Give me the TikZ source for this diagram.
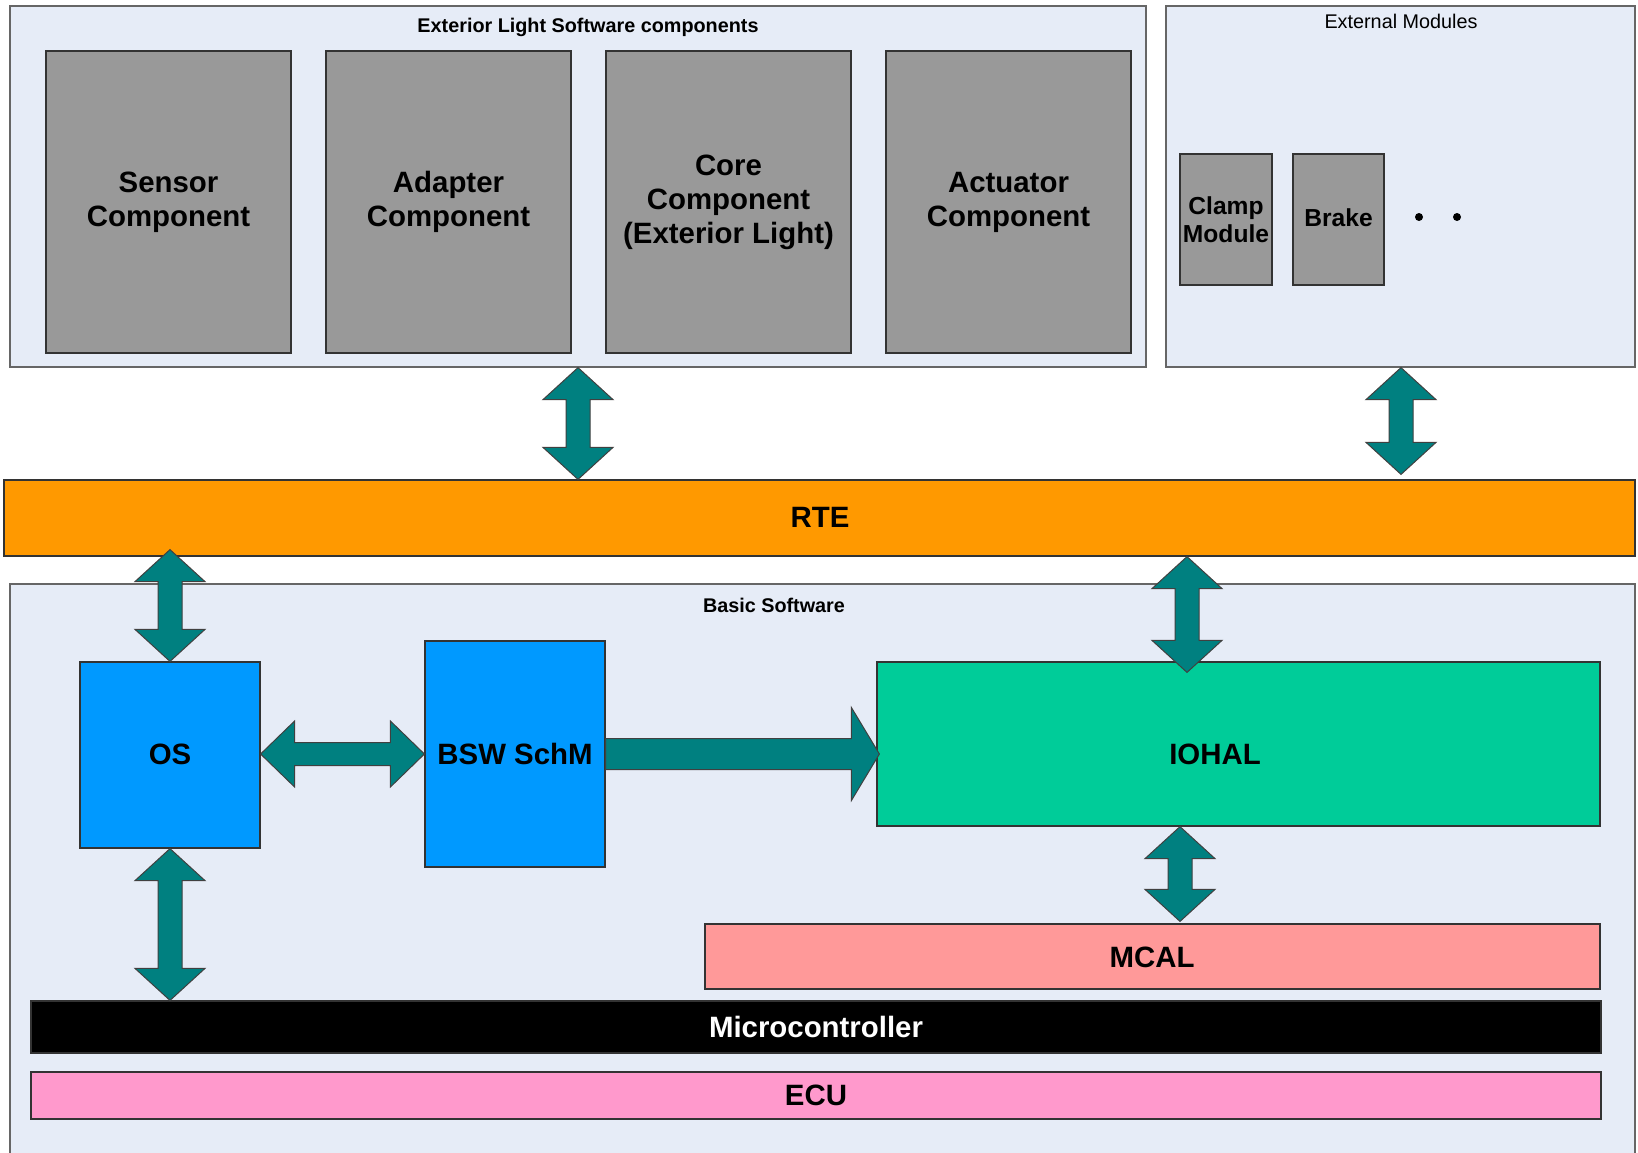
\documentclass[tikz,border=0pt]{standalone}
\usepackage{fontspec}
\setmainfont{Liberation Sans}
\usetikzlibrary{calc,fit}
\definecolor{bgblue}{HTML}{E6ECF7}
\definecolor{compgray}{HTML}{999999}
\definecolor{arrteal}{HTML}{008080}
\definecolor{rteorange}{HTML}{FF9900}
\definecolor{osblue}{HTML}{0099FF}
\definecolor{iohalgreen}{HTML}{00CC99}
\definecolor{mcalpink}{HTML}{FF9999}
\definecolor{ecupink}{HTML}{FF99CC}
\tikzset{
  bigtxt/.style={font=\fontsize{14.7}{17}\selectfont\bfseries, align=center, inner sep=0pt},
  midtxt/.style={font=\fontsize{12.3}{14.1}\selectfont\bfseries, align=center, inner sep=0pt},
  smalltxt/.style={font=\fontsize{9.9}{11}\selectfont},
  smallbold/.style={font=\fontsize{9.9}{11}\selectfont\bfseries},
  area/.style={draw=black!60, fill=bgblue, line width=0.6pt, inner sep=0pt},
  comp/.style={draw=black!80, fill=compgray, line width=0.6pt, inner sep=0pt},
  layer/.style={draw=black!80, line width=0.6pt, inner sep=0pt},
  blkarrow/.style={fill=arrteal, draw=black!75, line width=0.5pt, line join=miter},
}
\newcommand\blkvarrow[2]{\draw[blkarrow] (#1) -- ($(#1)+(35,32)$) -- ($(#1)+(12,32)$) -- ($(#2)+(12,-32)$) -- ($(#2)+(35,-32)$) -- (#2) -- ($(#2)+(-35,-32)$) -- ($(#2)+(-12,-32)$) -- ($(#1)+(-12,32)$) -- ($(#1)+(-35,32)$) -- cycle;}
\newcommand\blkharrow[2]{\draw[blkarrow] (#1) -- ($(#1)+(34,-33)$) -- ($(#1)+(34,-11.5)$) -- ($(#2)+(-34,-11.5)$) -- ($(#2)+(-34,-33)$) -- (#2) -- ($(#2)+(-34,33)$) -- ($(#2)+(-34,11.5)$) -- ($(#1)+(34,11.5)$) -- ($(#1)+(34,33)$) -- cycle;}
\newcommand\blkrarrow[2]{\draw[blkarrow] ($(#1)+(0,-15.5)$) -- ($(#2)+(-28,-15.5)$) -- ($(#2)+(-28,-46.5)$) -- (#2) -- ($(#2)+(-28,46.5)$) -- ($(#2)+(-28,15.5)$) -- ($(#1)+(0,15.5)$) -- cycle;}
\begin{document}
\begin{tikzpicture}[x=0.5pt,y=-0.5pt]
\fill[white] (0,0) rectangle (1638,1152);
\useasboundingbox (0,0) rectangle (1638,1152);

% Exterior light software components
\node[area, fit={(10,6)(1146,367)}] (ext) {};
\node[smallbold] (extT) at (588,27) {Exterior Light Software components};
\node[comp, fit={(46,51)(291,353)}] (sensor) {};
\node[comp, fit={(326,51)(571,353)}] (adapter) {};
\node[comp, fit={(606,51)(851,353)}] (core) {};
\node[comp, fit={(886,51)(1131,353)}] (actuator) {};
\node[bigtxt] (sensorT) at (sensor.center) {Sensor\\Component};
\node[bigtxt] (adapterT) at (adapter.center) {Adapter\\Component};
\node[bigtxt] (coreT) at (core.center) {Core\\Component\\(Exterior Light)};
\node[bigtxt] (actuatorT) at (actuator.center) {Actuator\\Component};

% External modules
\node[area, fit={(1166,6)(1635,367)}] (extmod) {};
\node[smalltxt] (extmodT) at (1401,21) {External Modules};
\node[comp, fit={(1180,154)(1272,285)}] (clamp) {};
\node[comp, fit={(1293,154)(1384,285)}] (brake) {};
\node[midtxt] (clampT) at (clamp.center) {Clamp\\Module};
\node[midtxt] (brakeT) at ($(brake.center)+(0,-2)$) {Brake};
\fill (1419,217) circle[radius=4];
\fill (1457,217) circle[radius=4];

% RTE
\node[layer, fill=rteorange, fit={(4,480)(1635,556)}] (rte) {};
\node[bigtxt] (rteT) at (820,517) {RTE};

% Basic software
\node[area, fit={(10,584)(1635,1170)}] (bsw) {};
\node[smallbold] (bswT) at (774,605) {Basic Software};
\node[layer, fill=osblue, fit={(80,662)(260,848)}] (os) {};
\node[bigtxt] (osT) at (170,754) {OS};
\node[layer, fill=osblue, fit={(425,641)(605,867)}] (schm) {};
\node[bigtxt] (schmT) at (515,754) {BSW SchM};
\node[layer, fill=iohalgreen, fit={(877,662)(1600,826)}] (iohal) {};
\node[bigtxt] (iohalT) at (1215,754) {IOHAL};
\node[layer, fill=mcalpink, fit={(705,924)(1600,989)}] (mcal) {};
\node[bigtxt] (mcalT) at (1152,957) {MCAL};
\node[layer, fill=black, fit={(31,1001)(1601,1053)}] (micro) {};
\node[bigtxt, text=white] (microT) at (816,1027) {Microcontroller};
\node[layer, fill=ecupink, fit={(31,1072)(1601,1119)}] (ecu) {};
\node[bigtxt] (ecuT) at (816,1095) {ECU};

% connectors
\coordinate (xa) at (578,0);
\coordinate (xb) at (1401,0);
\coordinate (xc) at (170,0);
\coordinate (xd) at (1187,0);
\coordinate (xe) at (1180,0);
\coordinate (a1t) at (xa |- ext.south);
\coordinate (a1b) at (xa |- rte.north);
\coordinate (a2t) at (xb |- extmod.south);
\coordinate (a2b) at ($(xb |- rte.north)+(0,-5)$);
\coordinate (a3t) at ($(xc |- rte.south)+(0,-7)$);
\coordinate (a3b) at (xc |- os.north);
\coordinate (a4t) at (xd |- rte.south);
\coordinate (a4b) at ($(xd |- iohal.north)+(0,11)$);
\coordinate (a5t) at (xe |- iohal.south);
\coordinate (a5b) at ($(xe |- mcal.north)+(0,-2)$);
\coordinate (a6t) at (xc |- os.south);
\coordinate (a6b) at (xc |- micro.north);
\coordinate (a7l) at (os.east |- schm.west);
\coordinate (a8r) at ($(iohal.west |- schm.east)+(3,0)$);

\blkvarrow{a1t}{a1b}
\blkvarrow{a2t}{a2b}
\blkvarrow{a3t}{a3b}
\blkvarrow{a4t}{a4b}
\blkvarrow{a5t}{a5b}
\blkvarrow{a6t}{a6b}
\blkharrow{a7l}{schm.west}
\blkrarrow{schm.east}{a8r}
\end{tikzpicture}
\end{document}
